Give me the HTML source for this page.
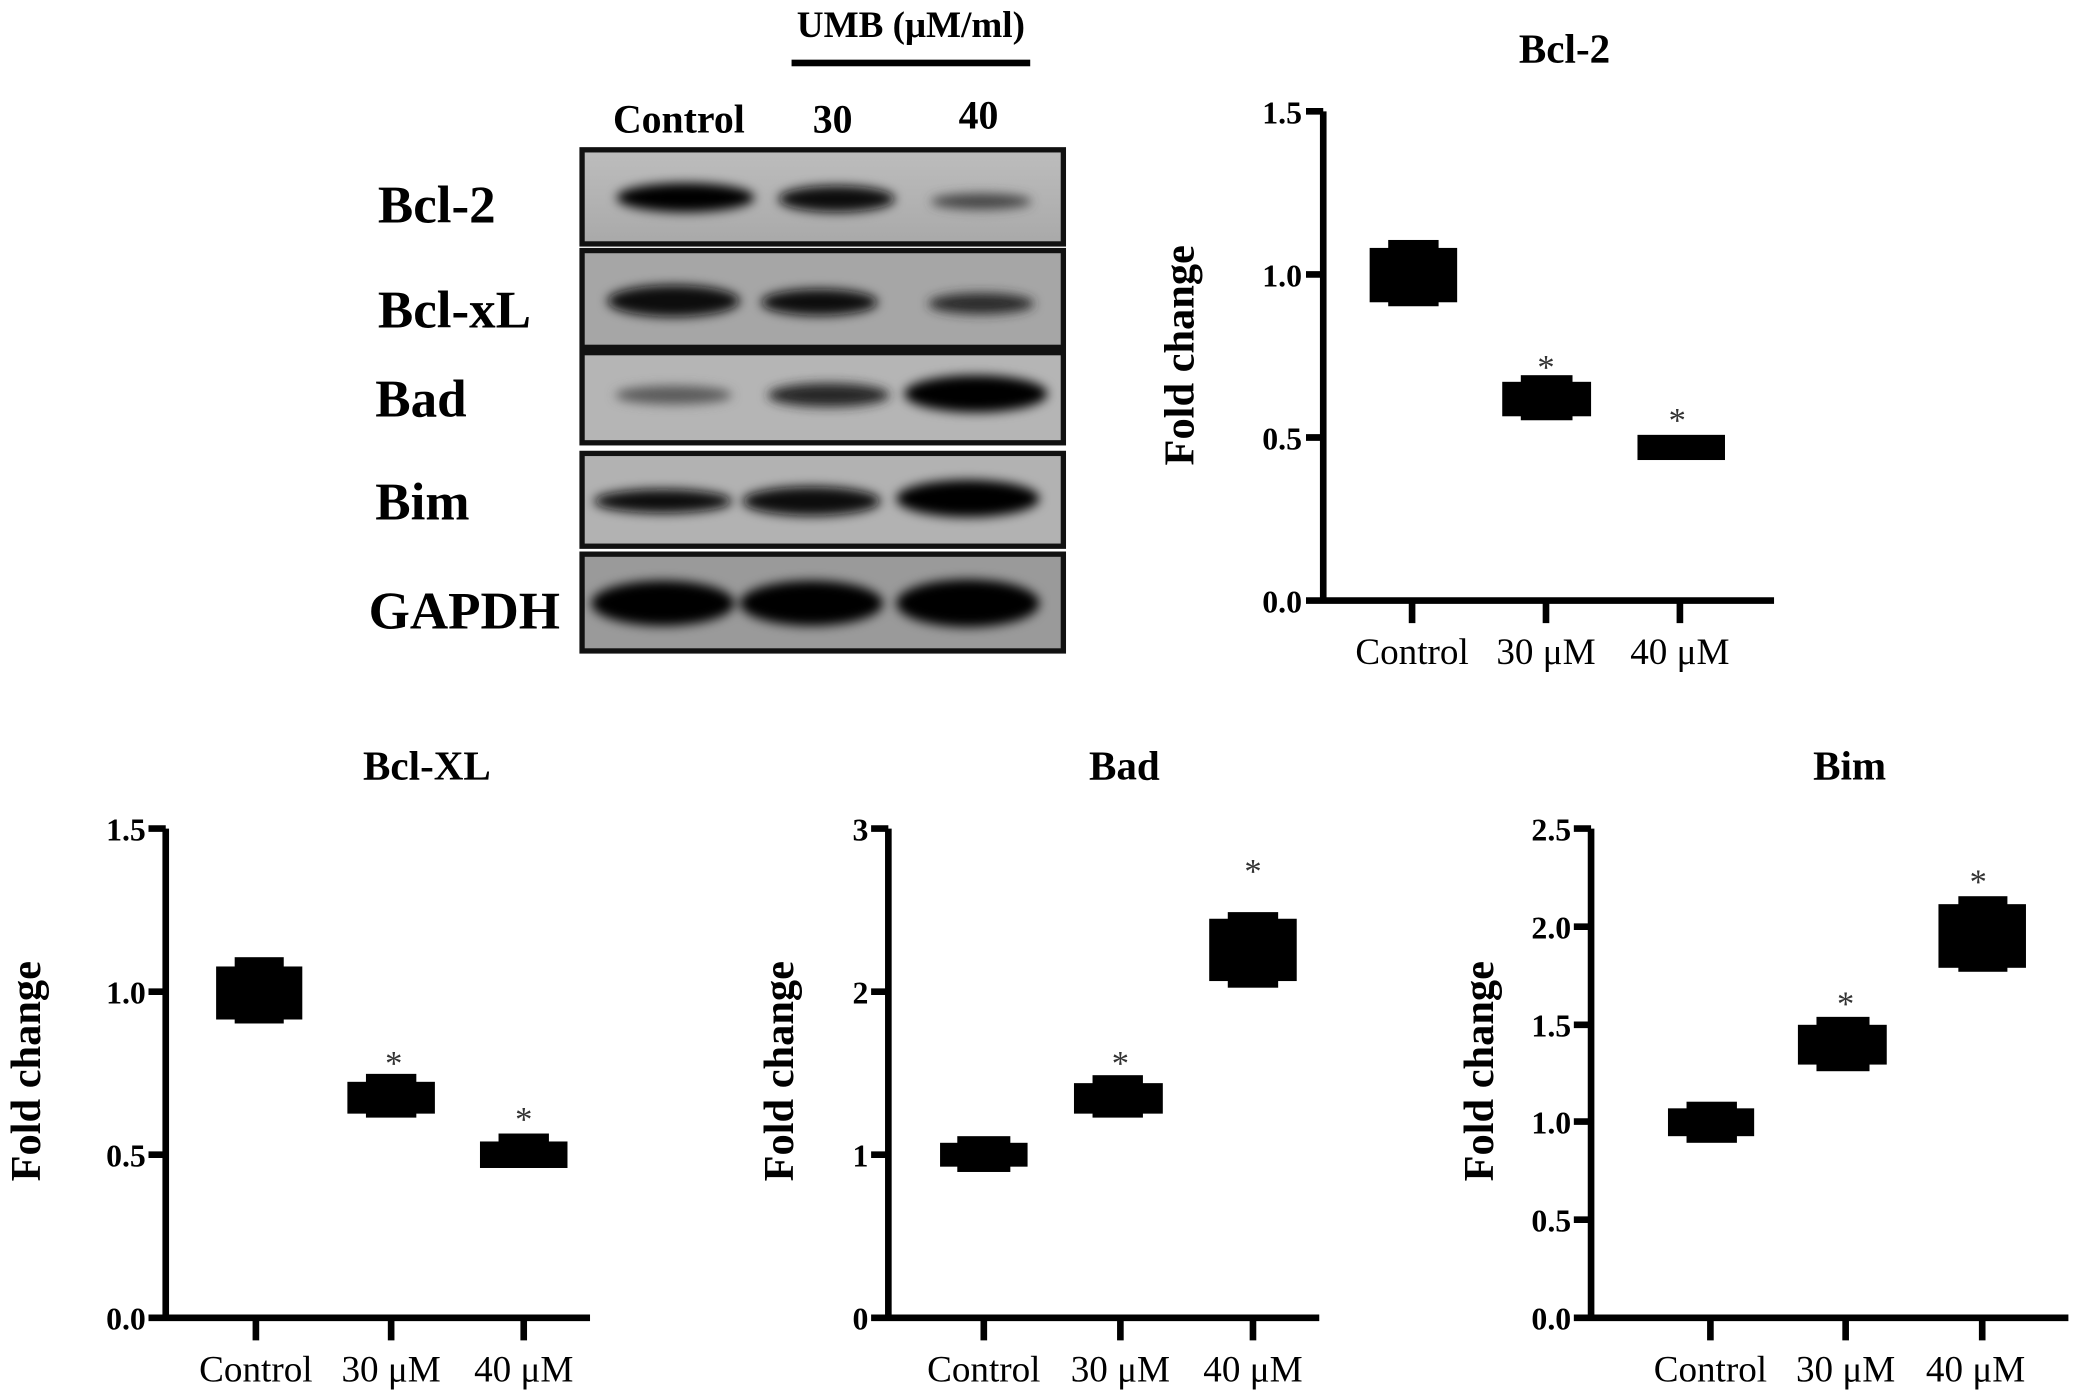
<!DOCTYPE html>
<html><head><style>
html,body{margin:0;padding:0;background:#fff;}
svg{display:block;}
text{font-family:"Liberation Serif",serif;}
.tk{font-weight:bold;font-size:24px;text-anchor:end;}
.xl{font-size:28px;text-anchor:middle;}
.tt{font-weight:bold;font-size:31px;text-anchor:middle;}
.yl{font-weight:bold;font-size:32px;text-anchor:middle;}
.st{font-size:26px;text-anchor:middle;fill:#333;}
.bl{font-weight:bold;font-size:40px;}
</style></head><body>
<svg width="2079" height="1400" viewBox="0 0 1568 1056" preserveAspectRatio="none" xmlns="http://www.w3.org/2000/svg">
<defs>
<filter id="b" x="-30%" y="-100%" width="160%" height="300%"><feGaussianBlur stdDeviation="4"/></filter>
<linearGradient id="g" x1="0" x2="0" y1="0" y2="1"><stop offset="0" stop-color="#bdbdbd"/><stop offset="1" stop-color="#a9a9a9"/></linearGradient>
</defs>
<rect width="1568" height="1056" fill="#fff"/>

<text x="687" y="28" font-weight="bold" font-size="28" text-anchor="middle">UMB (μM/ml)</text>
<rect x="597" y="45" width="180" height="5" fill="#000"/>
<text x="512" y="100" font-weight="bold" font-size="30" text-anchor="middle">Control</text>
<text x="628" y="100" font-weight="bold" font-size="30" text-anchor="middle">30</text>
<text x="738" y="97" font-weight="bold" font-size="30" text-anchor="middle">40</text>

<g>
<rect x="439" y="113" width="363" height="71" fill="url(#g)" stroke="#111" stroke-width="4"/>
<rect x="439" y="189" width="363" height="73" fill="#a6a6a6" stroke="#111" stroke-width="4"/>
<rect x="439" y="266" width="363" height="68" fill="#b5b5b5" stroke="#111" stroke-width="4"/>
<rect x="439" y="342" width="363" height="70" fill="#b2b2b2" stroke="#111" stroke-width="4"/>
<rect x="439" y="418" width="363" height="73" fill="#9a9a9a" stroke="#111" stroke-width="4"/>
</g>
<g filter="url(#b)">
<ellipse cx="517" cy="149" rx="52" ry="11" fill="#050505"/>
<ellipse cx="631" cy="150" rx="44" ry="10" fill="#0e0e0e"/>
<ellipse cx="740" cy="152" rx="38" ry="6" fill="#444"/>
<ellipse cx="508" cy="227" rx="50" ry="12" fill="#080808"/>
<ellipse cx="618" cy="228" rx="44" ry="10" fill="#111"/>
<ellipse cx="740" cy="229" rx="40" ry="8" fill="#2a2a2a"/>
<ellipse cx="508" cy="298" rx="44" ry="7" fill="#5a5a5a"/>
<ellipse cx="625" cy="298" rx="46" ry="9" fill="#262626"/>
<ellipse cx="736" cy="297" rx="54" ry="14" fill="#030303"/>
<ellipse cx="500" cy="378" rx="52" ry="9" fill="#111"/>
<ellipse cx="612" cy="378" rx="52" ry="11" fill="#080808"/>
<ellipse cx="730" cy="376" rx="54" ry="14" fill="#030303"/>
<ellipse cx="500" cy="455" rx="54" ry="17" fill="#030303"/>
<ellipse cx="612" cy="455" rx="54" ry="17" fill="#030303"/>
<ellipse cx="730" cy="455" rx="54" ry="18" fill="#030303"/>
</g>
<text x="285" y="168" class="bl">Bcl-2</text>
<text x="285" y="247" class="bl">Bcl-xL</text>
<text x="283" y="314" class="bl">Bad</text>
<text x="283" y="392" class="bl">Bim</text>
<text x="278" y="474" class="bl">GAPDH</text>

<g>
<text x="1180" y="47" class="tt">Bcl-2</text>
<path d="M998 84 V453 H1338 M985 84 H998 M985 207 H998 M985 330 H998 M985 453 H998 M1065 453 V470 M1166 453 V470 M1267 453 V470" stroke="#000" stroke-width="5" fill="none"/>
<text x="982" y="93" class="tk">1.5</text><text x="982" y="216" class="tk">1.0</text><text x="982" y="339" class="tk">0.5</text><text x="982" y="462" class="tk">0.0</text>
<text x="1065" y="501" class="xl">Control</text><text x="1166" y="501" class="xl">30 μM</text><text x="1267" y="501" class="xl">40 μM</text>
<text transform="translate(900,268) rotate(-90)" class="yl">Fold change</text>
<rect x="1033" y="187" width="66" height="41" fill="#000"/><rect x="1047" y="181" width="38" height="50" fill="#000"/>
<rect x="1133" y="288" width="67" height="26" fill="#000"/><rect x="1147" y="283" width="39" height="34" fill="#000"/>
<rect x="1235" y="328" width="66" height="19" fill="#000"/>
<text x="1166" y="286" class="st">*</text><text x="1265" y="326" class="st">*</text>
</g>

<g>
<text x="322" y="588" class="tt">Bcl-XL</text>
<path d="M125 625 V994 H445 M112 625 H125 M112 748 H125 M112 871 H125 M112 994 H125 M193 994 V1011 M295 994 V1011 M395 994 V1011" stroke="#000" stroke-width="5" fill="none"/>
<text x="110" y="634" class="tk">1.5</text><text x="110" y="757" class="tk">1.0</text><text x="110" y="880" class="tk">0.5</text><text x="110" y="1003" class="tk">0.0</text>
<text x="193" y="1042" class="xl">Control</text><text x="295" y="1042" class="xl">30 μM</text><text x="395" y="1042" class="xl">40 μM</text>
<text transform="translate(30,808) rotate(-90)" class="yl">Fold change</text>
<rect x="163" y="729" width="65" height="40" fill="#000"/><rect x="177" y="722" width="37" height="50" fill="#000"/>
<rect x="262" y="816" width="66" height="24" fill="#000"/><rect x="276" y="810" width="38" height="33" fill="#000"/>
<rect x="362" y="861" width="66" height="20" fill="#000"/><rect x="376" y="855" width="38" height="26" fill="#000"/>
<text x="297" y="811" class="st">*</text><text x="395" y="853" class="st">*</text>
</g>

<g>
<text x="848" y="588" class="tt">Bad</text>
<path d="M670 625 V994 H995 M657 625 H670 M657 748 H670 M657 871 H670 M657 994 H670 M742 994 V1011 M845 994 V1011 M945 994 V1011" stroke="#000" stroke-width="5" fill="none"/>
<text x="655" y="634" class="tk">3</text><text x="655" y="757" class="tk">2</text><text x="655" y="880" class="tk">1</text><text x="655" y="1003" class="tk">0</text>
<text x="742" y="1042" class="xl">Control</text><text x="845" y="1042" class="xl">30 μM</text><text x="945" y="1042" class="xl">40 μM</text>
<text transform="translate(598,808) rotate(-90)" class="yl">Fold change</text>
<rect x="709" y="862" width="66" height="18" fill="#000"/><rect x="722" y="857" width="40" height="27" fill="#000"/>
<rect x="810" y="817" width="67" height="23" fill="#000"/><rect x="824" y="811" width="38" height="32" fill="#000"/>
<rect x="912" y="693" width="66" height="47" fill="#000"/><rect x="926" y="688" width="38" height="57" fill="#000"/>
<text x="845" y="811" class="st">*</text><text x="945" y="666" class="st">*</text>
</g>

<g>
<text x="1395" y="588" class="tt">Bim</text>
<path d="M1200 625 V994 H1560 M1187 625 H1200 M1187 699 H1200 M1187 773 H1200 M1187 846 H1200 M1187 920 H1200 M1187 994 H1200 M1290 994 V1011 M1392 994 V1011 M1495 994 V1011" stroke="#000" stroke-width="5" fill="none"/>
<text x="1185" y="634" class="tk">2.5</text><text x="1185" y="708" class="tk">2.0</text><text x="1185" y="782" class="tk">1.5</text><text x="1185" y="855" class="tk">1.0</text><text x="1185" y="929" class="tk">0.5</text><text x="1185" y="1003" class="tk">0.0</text>
<text x="1290" y="1042" class="xl">Control</text><text x="1392" y="1042" class="xl">30 μM</text><text x="1490" y="1042" class="xl">40 μM</text>
<text transform="translate(1126,808) rotate(-90)" class="yl">Fold change</text>
<rect x="1258" y="836" width="65" height="21" fill="#000"/><rect x="1272" y="831" width="38" height="31" fill="#000"/>
<rect x="1356" y="773" width="67" height="30" fill="#000"/><rect x="1370" y="767" width="40" height="41" fill="#000"/>
<rect x="1462" y="682" width="66" height="48" fill="#000"/><rect x="1477" y="676" width="37" height="57" fill="#000"/>
<text x="1392" y="766" class="st">*</text><text x="1492" y="674" class="st">*</text>
</g>
</svg>
</body></html>
